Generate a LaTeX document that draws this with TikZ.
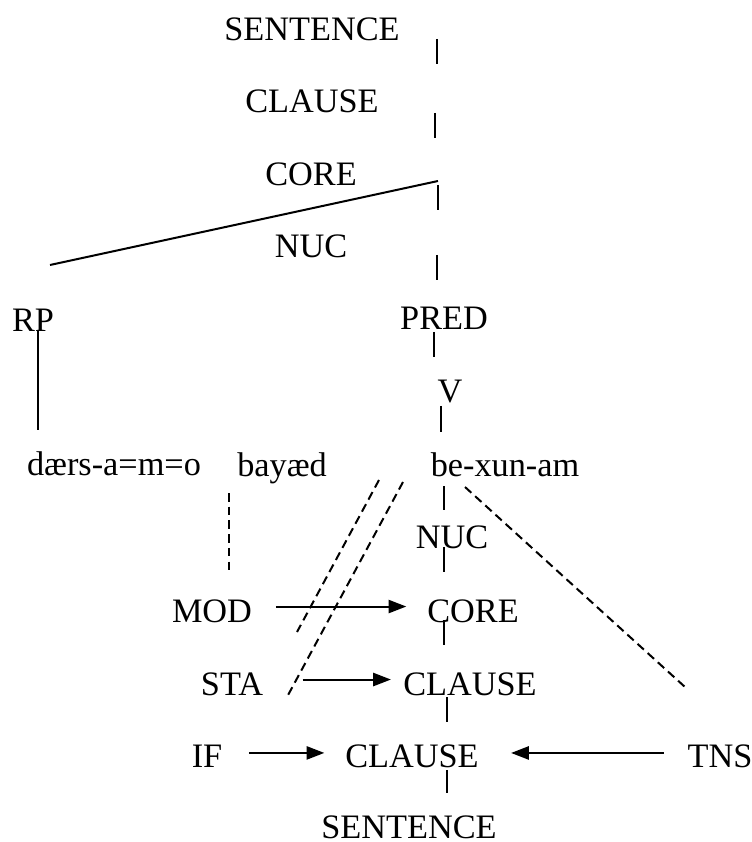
\documentclass[tikz,border=0pt]{standalone}
\usepackage{fontspec}
\setmainfont{Liberation Serif}
\usetikzlibrary{arrows.meta}

\begin{document}
\begin{tikzpicture}[x=0.35pt,y=-0.35pt,line width=0.7pt,
    lbl/.style={anchor=base,inner sep=0pt,font=\fontsize{12}{14}\selectfont},
    arr/.style={-{Triangle[length=6.2pt,width=4.6pt]}},
    dsh/.style={dash pattern=on 3pt off 1.8pt}]

\useasboundingbox (0,0) rectangle (751,842);

% upper tree
\node[lbl] (sent1) at (312,41) {SENTENCE};
\node[lbl] (cl1) at (312,113) {CLAUSE};
\node[lbl] (core1) at (311,186) {CORE};
\node[lbl] (nuc1) at (311,258) {NUC};
\node[lbl] (rp) at (33,332) {RP};
\node[lbl] (pred) at (444,330) {PRED};
\node[lbl] (v) at (450,403) {V};

% words
\node[lbl] (w1) at (114,475) {dærs-a=m=o};
\node[lbl] (w2) at (282,476) {bayæd};
\node[lbl] (w3) at (505,476) {be-xun-am};

% lower tree
\node[lbl] (nuc2) at (452,548) {NUC};
\node[lbl] (mod) at (212,622) {MOD};
\node[lbl] (core2) at (473,622) {CORE};
\node[lbl] (sta) at (232,695) {STA};
\node[lbl] (cl2) at (470,695) {CLAUSE};
\node[lbl] (if) at (207,767) {IF};
\node[lbl] (cl3) at (412,767) {CLAUSE};
\node[lbl] (tns) at (720,767) {TNS};
\node[lbl] (sent2) at (409,838) {SENTENCE};

\draw (50,265) -- (438,181);
\draw (38,330) -- (38,430);

% tick marks
\foreach \x/\ya/\yb in {437/39/64,435/113/138,438/185/210,437/255/280,
    434/332/357,441/406/432,444/486/510,444/547/572,444/620/645,
    447/697/722,447/770/793}
	\draw (\x,\ya) -- (\x,\yb);

% dashed lines
\draw[dsh] (229,493) -- (229,572);
\draw[dsh] (379,480) -- (297,632);
\draw[dsh] (403,482) -- (287,697);
\draw[dsh] (465,487) -- (685,687);

% operators
\draw[arr,shorten <=8pt,shorten >=7pt] ([yshift=1.5pt]mod.east) -- ([yshift=1.5pt]mod.east -| core2.west);
\draw[arr,shorten <=13.5pt,shorten >=4pt] ([yshift=1.5pt]sta.east) -- ([yshift=1.5pt]sta.east -| cl2.west);
\draw[arr,shorten <=9pt,shorten >=7pt] ([yshift=1pt]if.east) -- ([yshift=1pt]if.east -| cl3.west);
\draw[arr,shorten <=8pt,shorten >=11pt] ([yshift=1pt]tns.west) -- ([yshift=1pt]tns.west -| cl3.east);

\end{tikzpicture}
\end{document}
